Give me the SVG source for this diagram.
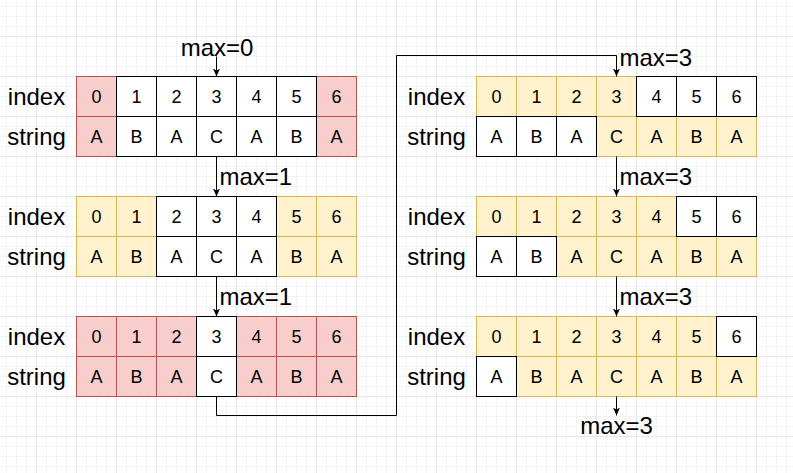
<svg xmlns="http://www.w3.org/2000/svg" width="793" height="473" viewBox="0 0 793 473">
<style>
.r{fill:#f8cecc;stroke:#b85450;stroke-width:1}
.y{fill:#fff2cc;stroke:#d6b656;stroke-width:1}
.w{fill:#ffffff;stroke:#000000;stroke-width:1}
.t{font-family:"Liberation Sans",Arial,sans-serif;font-size:18px;fill:#000;text-anchor:middle}
.lb{font-family:"Liberation Sans",Arial,sans-serif;font-size:24px;fill:#000;text-anchor:middle}
.mx{font-family:"Liberation Sans",Arial,sans-serif;font-size:24px;fill:#000}
.ln{fill:none;stroke:#000;stroke-width:1}
</style>
<defs>
<pattern id="grid" patternUnits="userSpaceOnUse" x="36" y="36" width="40" height="40">
<path d="M10.5,0V40M20.5,0V40M30.5,0V40M0,10.5H40M0,20.5H40M0,30.5H40" fill="none" stroke="#f3f3f3" stroke-width="1"/>
<path d="M0.5,0V40M0,0.5H40" fill="none" stroke="#e6e6e6" stroke-width="1"/>
</pattern>
<marker id="arr" viewBox="0 0 8 7" refX="8" refY="3.5" markerWidth="8" markerHeight="7" markerUnits="userSpaceOnUse" orient="auto">
<path d="M0,0 L8,3.5 L0,7 L2,3.5 z" fill="#000"/>
</marker>
</defs>
<rect width="793" height="473" fill="#ffffff"/>
<rect width="793" height="473" fill="url(#grid)"/>
<g transform="translate(0.5,0.5)">
<g id="block1">
<rect class="r" x="76" y="76" width="40" height="40"/><rect class="r" x="316" y="76" width="40" height="40"/>
<rect class="r" x="76" y="116" width="40" height="40"/><rect class="r" x="316" y="116" width="40" height="40"/>
<rect class="w" x="116" y="76" width="40" height="40"/><rect class="w" x="156" y="76" width="40" height="40"/><rect class="w" x="196" y="76" width="40" height="40"/><rect class="w" x="236" y="76" width="40" height="40"/><rect class="w" x="276" y="76" width="40" height="40"/>
<rect class="w" x="116" y="116" width="40" height="40"/><rect class="w" x="156" y="116" width="40" height="40"/><rect class="w" x="196" y="116" width="40" height="40"/><rect class="w" x="236" y="116" width="40" height="40"/><rect class="w" x="276" y="116" width="40" height="40"/>
<text class="lb" x="36" y="104">index</text><text class="lb" x="36" y="144">string</text>
<text class="t" x="96" y="102.5">0</text><text class="t" x="136" y="102.5">1</text><text class="t" x="176" y="102.5">2</text><text class="t" x="216" y="102.5">3</text><text class="t" x="256" y="102.5">4</text><text class="t" x="296" y="102.5">5</text><text class="t" x="336" y="102.5">6</text>
<text class="t" x="96" y="142.5">A</text><text class="t" x="136" y="142.5">B</text><text class="t" x="176" y="142.5">A</text><text class="t" x="216" y="142.5">C</text><text class="t" x="256" y="142.5">A</text><text class="t" x="296" y="142.5">B</text><text class="t" x="336" y="142.5">A</text>
</g>
<g id="block2">
<rect class="y" x="76" y="196" width="40" height="40"/><rect class="y" x="116" y="196" width="40" height="40"/><rect class="y" x="276" y="196" width="40" height="40"/><rect class="y" x="316" y="196" width="40" height="40"/>
<rect class="y" x="76" y="236" width="40" height="40"/><rect class="y" x="116" y="236" width="40" height="40"/><rect class="y" x="276" y="236" width="40" height="40"/><rect class="y" x="316" y="236" width="40" height="40"/>
<rect class="w" x="156" y="196" width="40" height="40"/><rect class="w" x="196" y="196" width="40" height="40"/><rect class="w" x="236" y="196" width="40" height="40"/>
<rect class="w" x="156" y="236" width="40" height="40"/><rect class="w" x="196" y="236" width="40" height="40"/><rect class="w" x="236" y="236" width="40" height="40"/>
<text class="lb" x="36" y="224">index</text><text class="lb" x="36" y="264">string</text>
<text class="t" x="96" y="222.5">0</text><text class="t" x="136" y="222.5">1</text><text class="t" x="176" y="222.5">2</text><text class="t" x="216" y="222.5">3</text><text class="t" x="256" y="222.5">4</text><text class="t" x="296" y="222.5">5</text><text class="t" x="336" y="222.5">6</text>
<text class="t" x="96" y="262.5">A</text><text class="t" x="136" y="262.5">B</text><text class="t" x="176" y="262.5">A</text><text class="t" x="216" y="262.5">C</text><text class="t" x="256" y="262.5">A</text><text class="t" x="296" y="262.5">B</text><text class="t" x="336" y="262.5">A</text>
</g>
<g id="block3">
<rect class="r" x="76" y="316" width="40" height="40"/><rect class="r" x="116" y="316" width="40" height="40"/><rect class="r" x="156" y="316" width="40" height="40"/><rect class="r" x="236" y="316" width="40" height="40"/><rect class="r" x="276" y="316" width="40" height="40"/><rect class="r" x="316" y="316" width="40" height="40"/>
<rect class="r" x="76" y="356" width="40" height="40"/><rect class="r" x="116" y="356" width="40" height="40"/><rect class="r" x="156" y="356" width="40" height="40"/><rect class="r" x="236" y="356" width="40" height="40"/><rect class="r" x="276" y="356" width="40" height="40"/><rect class="r" x="316" y="356" width="40" height="40"/>
<rect class="w" x="196" y="316" width="40" height="40"/><rect class="w" x="196" y="356" width="40" height="40"/>
<text class="lb" x="36" y="344">index</text><text class="lb" x="36" y="384">string</text>
<text class="t" x="96" y="342.5">0</text><text class="t" x="136" y="342.5">1</text><text class="t" x="176" y="342.5">2</text><text class="t" x="216" y="342.5">3</text><text class="t" x="256" y="342.5">4</text><text class="t" x="296" y="342.5">5</text><text class="t" x="336" y="342.5">6</text>
<text class="t" x="96" y="382.5">A</text><text class="t" x="136" y="382.5">B</text><text class="t" x="176" y="382.5">A</text><text class="t" x="216" y="382.5">C</text><text class="t" x="256" y="382.5">A</text><text class="t" x="296" y="382.5">B</text><text class="t" x="336" y="382.5">A</text>
</g>
<g id="block4">
<rect class="y" x="476" y="76" width="40" height="40"/><rect class="y" x="516" y="76" width="40" height="40"/><rect class="y" x="556" y="76" width="40" height="40"/><rect class="y" x="596" y="76" width="40" height="40"/>
<rect class="y" x="596" y="116" width="40" height="40"/><rect class="y" x="636" y="116" width="40" height="40"/><rect class="y" x="676" y="116" width="40" height="40"/><rect class="y" x="716" y="116" width="40" height="40"/>
<rect class="w" x="636" y="76" width="40" height="40"/><rect class="w" x="676" y="76" width="40" height="40"/><rect class="w" x="716" y="76" width="40" height="40"/>
<rect class="w" x="476" y="116" width="40" height="40"/><rect class="w" x="516" y="116" width="40" height="40"/><rect class="w" x="556" y="116" width="40" height="40"/>
<text class="lb" x="436" y="104">index</text><text class="lb" x="436" y="144">string</text>
<text class="t" x="496" y="102.5">0</text><text class="t" x="536" y="102.5">1</text><text class="t" x="576" y="102.5">2</text><text class="t" x="616" y="102.5">3</text><text class="t" x="656" y="102.5">4</text><text class="t" x="696" y="102.5">5</text><text class="t" x="736" y="102.5">6</text>
<text class="t" x="496" y="142.5">A</text><text class="t" x="536" y="142.5">B</text><text class="t" x="576" y="142.5">A</text><text class="t" x="616" y="142.5">C</text><text class="t" x="656" y="142.5">A</text><text class="t" x="696" y="142.5">B</text><text class="t" x="736" y="142.5">A</text>
</g>
<g id="block5">
<rect class="y" x="476" y="196" width="40" height="40"/><rect class="y" x="516" y="196" width="40" height="40"/><rect class="y" x="556" y="196" width="40" height="40"/><rect class="y" x="596" y="196" width="40" height="40"/><rect class="y" x="636" y="196" width="40" height="40"/>
<rect class="y" x="556" y="236" width="40" height="40"/><rect class="y" x="596" y="236" width="40" height="40"/><rect class="y" x="636" y="236" width="40" height="40"/><rect class="y" x="676" y="236" width="40" height="40"/><rect class="y" x="716" y="236" width="40" height="40"/>
<rect class="w" x="676" y="196" width="40" height="40"/><rect class="w" x="716" y="196" width="40" height="40"/>
<rect class="w" x="476" y="236" width="40" height="40"/><rect class="w" x="516" y="236" width="40" height="40"/>
<text class="lb" x="436" y="224">index</text><text class="lb" x="436" y="264">string</text>
<text class="t" x="496" y="222.5">0</text><text class="t" x="536" y="222.5">1</text><text class="t" x="576" y="222.5">2</text><text class="t" x="616" y="222.5">3</text><text class="t" x="656" y="222.5">4</text><text class="t" x="696" y="222.5">5</text><text class="t" x="736" y="222.5">6</text>
<text class="t" x="496" y="262.5">A</text><text class="t" x="536" y="262.5">B</text><text class="t" x="576" y="262.5">A</text><text class="t" x="616" y="262.5">C</text><text class="t" x="656" y="262.5">A</text><text class="t" x="696" y="262.5">B</text><text class="t" x="736" y="262.5">A</text>
</g>
<g id="block6">
<rect class="y" x="476" y="316" width="40" height="40"/><rect class="y" x="516" y="316" width="40" height="40"/><rect class="y" x="556" y="316" width="40" height="40"/><rect class="y" x="596" y="316" width="40" height="40"/><rect class="y" x="636" y="316" width="40" height="40"/><rect class="y" x="676" y="316" width="40" height="40"/>
<rect class="y" x="516" y="356" width="40" height="40"/><rect class="y" x="556" y="356" width="40" height="40"/><rect class="y" x="596" y="356" width="40" height="40"/><rect class="y" x="636" y="356" width="40" height="40"/><rect class="y" x="676" y="356" width="40" height="40"/><rect class="y" x="716" y="356" width="40" height="40"/>
<rect class="w" x="716" y="316" width="40" height="40"/>
<rect class="w" x="476" y="356" width="40" height="40"/>
<text class="lb" x="436" y="344">index</text><text class="lb" x="436" y="384">string</text>
<text class="t" x="496" y="342.5">0</text><text class="t" x="536" y="342.5">1</text><text class="t" x="576" y="342.5">2</text><text class="t" x="616" y="342.5">3</text><text class="t" x="656" y="342.5">4</text><text class="t" x="696" y="342.5">5</text><text class="t" x="736" y="342.5">6</text>
<text class="t" x="496" y="382.5">A</text><text class="t" x="536" y="382.5">B</text><text class="t" x="576" y="382.5">A</text><text class="t" x="616" y="382.5">C</text><text class="t" x="656" y="382.5">A</text><text class="t" x="696" y="382.5">B</text><text class="t" x="736" y="382.5">A</text>
</g>
<g id="connectors">
<path class="ln" d="M216,56 L216,76" marker-end="url(#arr)"/>
<path class="ln" d="M216,156 L216,196" marker-end="url(#arr)"/>
<path class="ln" d="M216,276 L216,316" marker-end="url(#arr)"/>
<path class="ln" d="M216,396 L216,415 L396,415 L396,55 L616,55 L616,76" marker-end="url(#arr)"/>
<path class="ln" d="M616,156 L616,196" marker-end="url(#arr)"/>
<path class="ln" d="M616,276 L616,316" marker-end="url(#arr)"/>
<path class="ln" d="M616,396 L616,415" marker-end="url(#arr)"/>
<text class="mx" x="216.5" y="55" text-anchor="middle">max=0</text>
<text class="mx" x="219" y="184">max=1</text>
<text class="mx" x="219" y="304">max=1</text>
<text class="mx" x="619" y="65">max=3</text>
<text class="mx" x="619" y="184">max=3</text>
<text class="mx" x="619" y="304">max=3</text>
<text class="mx" x="616" y="433" text-anchor="middle">max=3</text>
</g>
</g>
</svg>
